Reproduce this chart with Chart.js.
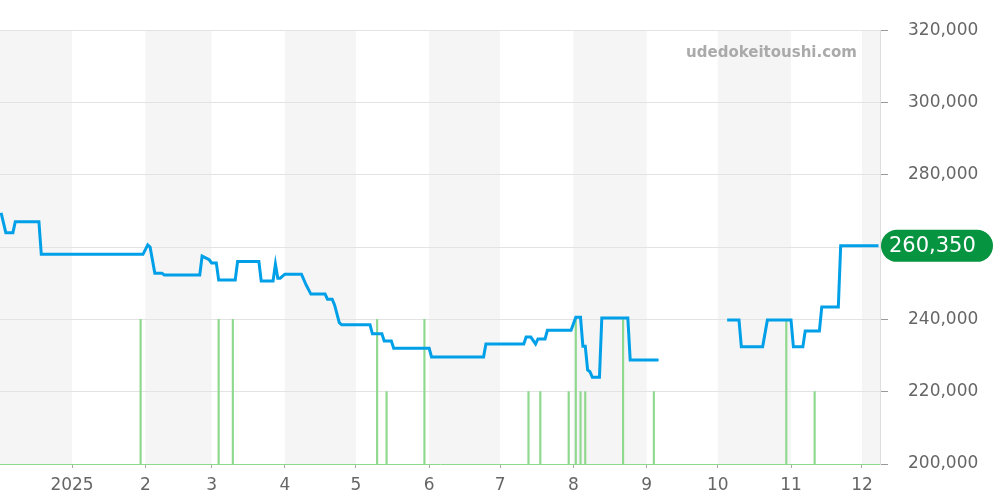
<!DOCTYPE html>
<html>
<head>
<meta charset="utf-8">
<script src="https://cdn.jsdelivr.net/npm/chart.js@4.4.1/dist/chart.umd.min.js"></script>
<style>
  html, body { margin: 0; padding: 0; background: #fff; }
  #wrap { width: 1000px; height: 500px; }
</style>
</head>
<body>
<div id="wrap"><canvas id="chart" width="1000" height="500"></canvas></div>
<script>
// price line (null = no data)
const priceDates = [
  "2024-12-02","2024-12-04","2024-12-07","2024-12-08","2024-12-18","2024-12-19",
  "2025-01-31","2025-02-02","2025-02-03","2025-02-05","2025-02-08","2025-02-09",
  "2025-02-24","2025-02-25","2025-02-28","2025-03-01","2025-03-03","2025-03-04",
  "2025-03-11","2025-03-12","2025-03-21","2025-03-22","2025-03-27","2025-03-28",
  "2025-03-29","2025-03-30","2025-04-01","2025-04-08","2025-04-10","2025-04-12",
  "2025-04-18","2025-04-19","2025-04-21","2025-04-22","2025-04-24","2025-04-25",
  "2025-05-07","2025-05-08","2025-05-12","2025-05-13","2025-05-16","2025-05-17",
  "2025-06-01","2025-06-02","2025-06-24","2025-06-25","2025-07-11","2025-07-12",
  "2025-07-14","2025-07-16","2025-07-17","2025-07-20","2025-07-21","2025-07-31",
  "2025-08-02","2025-08-04","2025-08-05","2025-08-06","2025-08-07","2025-08-08",
  "2025-08-09","2025-08-12","2025-08-13","2025-08-24","2025-08-25","2025-09-06",
  "2025-09-20",
  "2025-10-05","2025-10-10","2025-10-11","2025-10-20","2025-10-22","2025-11-01",
  "2025-11-02","2025-11-06","2025-11-07","2025-11-13","2025-11-14","2025-11-21",
  "2025-11-22","2025-12-08"
];
const priceValues = [
  269500,264000,264000,267000,267000,258000,
  258000,260600,260000,252800,252800,252300,
  252300,257500,256500,255600,255600,250900,
  250900,256000,256000,250600,250600,255300,
  251400,251400,252500,252500,249500,247000,
  247000,245600,245600,244000,239100,238500,
  238500,236000,236000,234000,234000,232000,
  232000,229600,229600,233200,233200,235100,
  235100,233200,234600,234600,237000,237000,
  240600,240600,232600,232600,226000,225500,
  224000,224000,240400,240400,228800,228800,
  null,
  239800,239800,232400,232400,239800,239800,
  232400,232400,236800,236800,243400,243400,
  260350,260350
];

// transaction counts (green bars)
const volumeDates = [
  "2025-01-30","2025-03-04","2025-03-10","2025-05-10","2025-05-14","2025-05-30",
  "2025-07-13","2025-07-18","2025-07-30","2025-08-02","2025-08-04","2025-08-06",
  "2025-08-22","2025-09-04","2025-10-30","2025-11-11"
];
const volumeValues = [2,2,2,2,1,2, 1,1,1,2,1,1, 2,1,2,1];

// x axis
const tickDates = [
  "2025-01-01","2025-02-01","2025-03-01","2025-04-01","2025-05-01","2025-06-01",
  "2025-07-01","2025-08-01","2025-09-01","2025-10-01","2025-11-01","2025-12-01"
];
const tickLabels = ["2025","2","3","4","5","6","7","8","9","10","11","12"];

const xMin = Date.parse("2024-12-01T13:00:00Z");
const xMax = Date.parse("2025-12-08T15:00:00Z");
const lastPrice = 260350;

function day(s){ return Date.parse(s + "T00:00:00Z"); }

const tickTimes = tickDates.map(day);

const bands = {
  id: "bands",
  beforeDraw(chart){
    let ctx = chart.ctx, a = chart.chartArea, x = chart.scales.x;
    ctx.save();
    ctx.fillStyle = "#f5f5f5";
    for (let m = 11; m <= 24; m++) {
      let start = Date.UTC(2024, m, 1), end = Date.UTC(2024, m + 1, 1);
      if (new Date(start).getUTCMonth() % 2 !== 1) continue;
      let l = Math.max(a.left, x.getPixelForValue(start));
      let r = Math.min(a.right, x.getPixelForValue(end));
      if (r > l) ctx.fillRect(l, a.top, r - l, a.bottom - a.top);
    }
    ctx.restore();
  },
  afterDraw(chart){
    let ctx = chart.ctx, y = chart.scales.y;
    ctx.save();
    // watermark
    ctx.font = "bold 15px 'DejaVu Sans'";
    ctx.fillStyle = "#aaaaaa";
    ctx.textAlign = "right";
    ctx.textBaseline = "middle";
    ctx.fillText("udedokeitoushi.com", 857, 53);
    // last price badge
    let py = y.getPixelForValue(lastPrice);
    ctx.fillStyle = "#079440";
    ctx.beginPath();
    ctx.roundRect(881, py - 16, 112, 32, 16);
    ctx.fill();
    ctx.font = "21px 'DejaVu Sans'";
    ctx.fillStyle = "#ffffff";
    ctx.textAlign = "left";
    ctx.fillText(lastPrice.toLocaleString("en-US"), 889, py + 1);
    ctx.restore();
  }
};

Chart.defaults.font.family = "'DejaVu Sans', sans-serif";
Chart.defaults.font.size = 17;
Chart.defaults.color = "#666";

new Chart(document.getElementById("chart"), {
  data: {
    datasets: [
      {
        type: "line",
        data: priceDates.map((d, i) => ({ x: day(d), y: priceValues[i] })),
        borderColor: "#00a0e9",
        borderWidth: 3,
        pointRadius: 0,
        tension: 0,
        spanGaps: false,
        yAxisID: "y",
        order: 1
      },
      {
        type: "bar",
        data: volumeDates.map((d, i) => ({ x: day(d), y: volumeValues[i] })),
        backgroundColor: "#8fd98f",
        barThickness: 1.5,
        yAxisID: "yv",
        order: 2
      }
    ]
  },
  options: {
    responsive: false,
    animation: false,
    layout: { padding: { top: 30, left: 0, right: 0, bottom: 0 } },
    plugins: { legend: { display: false }, tooltip: { enabled: false } },
    scales: {
      x: {
        type: "linear",
        min: xMin,
        max: xMax,
        offset: false,
        afterBuildTicks: s => { s.ticks = tickTimes.map(v => ({ value: v })); },
        afterFit: s => { s.height = 36; },
        ticks: {
          autoSkip: false,
          maxRotation: 0,
          padding: 7,
          callback: v => tickLabels[tickTimes.indexOf(v)]
        },
        grid: { offset: false, drawOnChartArea: false, tickLength: 4, tickColor: "#aaa" },
        border: { display: true, color: "#8fd98f", dash: [1, 1] }
      },
      y: {
        position: "right",
        min: 200000,
        max: 320000,
        afterFit: s => { s.width = 120; },
        ticks: {
          stepSize: 20000,
          padding: 20,
          callback: v => v.toLocaleString("en-US")
        },
        grid: {
          color: c => c.tick && c.tick.value === 200000 ? "rgba(0,0,0,0)" : "#e3e3e3",
          tickLength: 8,
          tickColor: "#999"
        },
        border: { display: true, color: "#ddd" }
      },
      yv: {
        display: false,
        min: 0,
        max: 6
      }
    }
  },
  plugins: [bands]
});
</script>
</body>
</html>
